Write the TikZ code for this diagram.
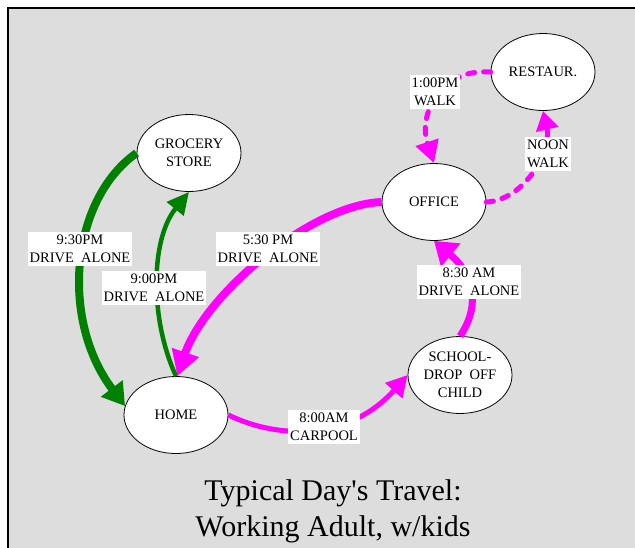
\documentclass[tikz,border=0pt]{standalone}
\usepackage{fontspec}
\setmainfont{Liberation Serif}[Ligatures=TeXOff]
\usetikzlibrary{arrows.meta,shapes.geometric}

\definecolor{panel}{HTML}{DDDDDD}
\definecolor{drivegreen}{HTML}{008000}
\definecolor{tripmag}{HTML}{FF00FF}

\begin{document}
\begin{tikzpicture}[x=1pt,y=-1pt,
  place/.style={ellipse,draw=black,line width=0.8pt,fill=white,
    minimum width=104pt,minimum height=77pt,inner sep=0pt,align=center,
    font=\fontsize{14.5}{18}\selectfont},
  tag/.style={fill=white,inner xsep=2pt,inner ysep=3.5pt,align=center,
    font=\fontsize{14.5}{18}\selectfont},
  walk/.style={tripmag,line width=5pt,line cap=round,dash pattern=on 7pt off 9pt},
]
% page and grey panel
\useasboundingbox (0,0) rectangle (635,547);
\draw[fill=panel,line width=1.5pt] (8,8) rectangle (645,560);

% places
\node[place] (grocery) at (189,153) {GROCERY\\STORE};
\node[place] (home)    at (176,415) {HOME};
\node[place] (office)  at (434,202) {OFFICE};
\node[place] (restaur) at (543,72)  {RESTAUR.};
\node[place] (school)  at (460,375) {SCHOOL-\\DROP\ \ OFF\\CHILD};

% evening trips (green)
\draw[drivegreen,line width=8pt,-{Triangle[length=22pt,width=26pt]}]
  (grocery.west) .. controls (70,200) and (60,320) .. (home.170);
\draw[drivegreen,line width=4.5pt,-{Triangle[length=22pt,width=21pt]}]
  (home.north) .. controls (150,320) and (150,240) .. (grocery.south);

% daytime trips (magenta)
\draw[tripmag,line width=8pt,-{Triangle[length=25pt,width=27pt]}]
  (office.west) .. controls (310,205) and (205,295) .. (home.88);
\draw[tripmag,line width=5pt,-{Triangle[length=21pt,width=22pt]}]
  (home.east) .. controls (280,440) and (350,440) .. (school.west);
\draw[tripmag,line width=7pt,-{Triangle[length=22pt,width=29pt]}]
  (school.north) .. controls (478,310) and (478,278) .. (office.south);

% lunch walks (dashed)
\draw[walk,-{Triangle[length=19pt,width=22pt]}]
  (office.east) .. controls (525,200) and (552,150) .. (restaur.south);
\draw[walk,-{Triangle[length=22pt,width=23pt]}]
  (restaur.west) .. controls (440,68) and (418,115) .. (office.north);

% trip labels
\node[tag] (t930) at (80,249)  {9:30PM\\DRIVE\ \ ALONE};
\node[tag] (t900) at (154,288) {9:00PM\\DRIVE\ \ ALONE};
\node[tag] (t530) at (268,249) {5:30 PM\\DRIVE\ \ ALONE};
\node[tag] (t800) at (324,427) {8:00AM\\CARPOOL};
\node[tag] (t830) at (469,282) {8:30 AM\\DRIVE\ \ ALONE};
\node[tag] (tnoon) at (548,154) {NOON\\WALK};
\node[tag] (t100) at (435,92)  {1:00PM\\WALK};

% caption
\node[align=center,font=\fontsize{30}{36}\selectfont] (caption) at (333,511)
  {Typical\ Day's\ Travel:\\Working\ Adult,\ w/kids};
\end{tikzpicture}
\end{document}
